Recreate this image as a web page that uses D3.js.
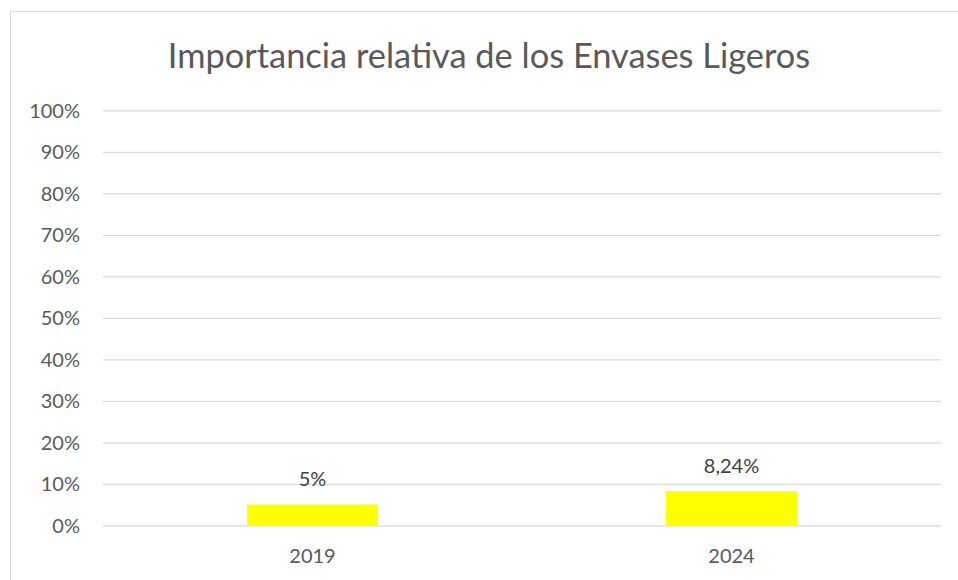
<!DOCTYPE html>
<html>
<head>
<meta charset="utf-8">
<script src="https://cdn.jsdelivr.net/npm/d3@7"></script>
<style>
  body { margin: 0; background: #fff; }
  text { font-family: Lato, "Open Sans", sans-serif; }
</style>
</head>
<body>
<svg id="chart" width="958" height="580"></svg>
<script>
var years = ["2019", "2024"]
var shares = [5, 8.24]
var shareLabels = ["5%", "8,24%"]
var yTicks = [0, 10, 20, 30, 40, 50, 60, 70, 80, 90, 100]

var svg = d3.select("#chart")
var plotLeft = 103, plotRight = 941, plotTop = 110.3, plotBottom = 525.3

// outer chart frame (cut off at right and bottom like the source)
svg.append("rect").attr("x", 10.5).attr("y", 11.5).attr("width", 1000).attr("height", 700)
  .style("fill", "none").style("stroke", "#d9d9d9").style("stroke-width", 1)

svg.append("text").attr("x", 489).attr("y", 67.5).attr("text-anchor", "middle")
  .text("Importancia relativa de los Envases Ligeros")
  .style("font-size", "34.4px").style("fill", "#595959")

var x = d3.scaleBand().domain(years).range([plotLeft, plotRight]).paddingInner(0.6875).paddingOuter(0.34375)
var y = d3.scaleLinear().domain([0, 100]).range([plotBottom, plotTop])

var yAxis = svg.append("g").attr("transform", "translate(" + plotLeft + ",0)")
  .call(d3.axisLeft(y).tickValues(yTicks).tickFormat(function(d) { return d + "%" })
    .tickSize(-(plotRight - plotLeft)).tickPadding(23))
yAxis.select(".domain").remove()
yAxis.selectAll("line").style("stroke", "#d9d9d9").style("stroke-width", 1.3)
yAxis.selectAll("text").style("font-size", "20px").style("fill", "#595959").attr("dy", "0.35em")

var xAxis = svg.append("g").attr("transform", "translate(0," + plotBottom + ")")
  .call(d3.axisBottom(x).tickSize(0).tickPadding(24))
xAxis.select(".domain").remove()
xAxis.selectAll("text").style("font-size", "20px").style("fill", "#595959")

svg.selectAll(".bar").data(years).enter().append("rect")
  .attr("class", "bar")
  .attr("x", function(d) { return x(d) })
  .attr("width", x.bandwidth())
  .attr("y", function(d, i) { return y(shares[i]) })
  .attr("height", function(d, i) { return plotBottom - y(shares[i]) })
  .style("fill", "#ffff00")

svg.selectAll(".lbl").data(years).enter().append("text")
  .attr("class", "lbl")
  .attr("x", function(d) { return x(d) + x.bandwidth() / 2 })
  .attr("y", function(d, i) { return y(shares[i]) - 18.5 })
  .attr("text-anchor", "middle")
  .text(function(d, i) { return shareLabels[i] })
  .style("font-size", "20px").style("fill", "#404040")
</script>
</body>
</html>
